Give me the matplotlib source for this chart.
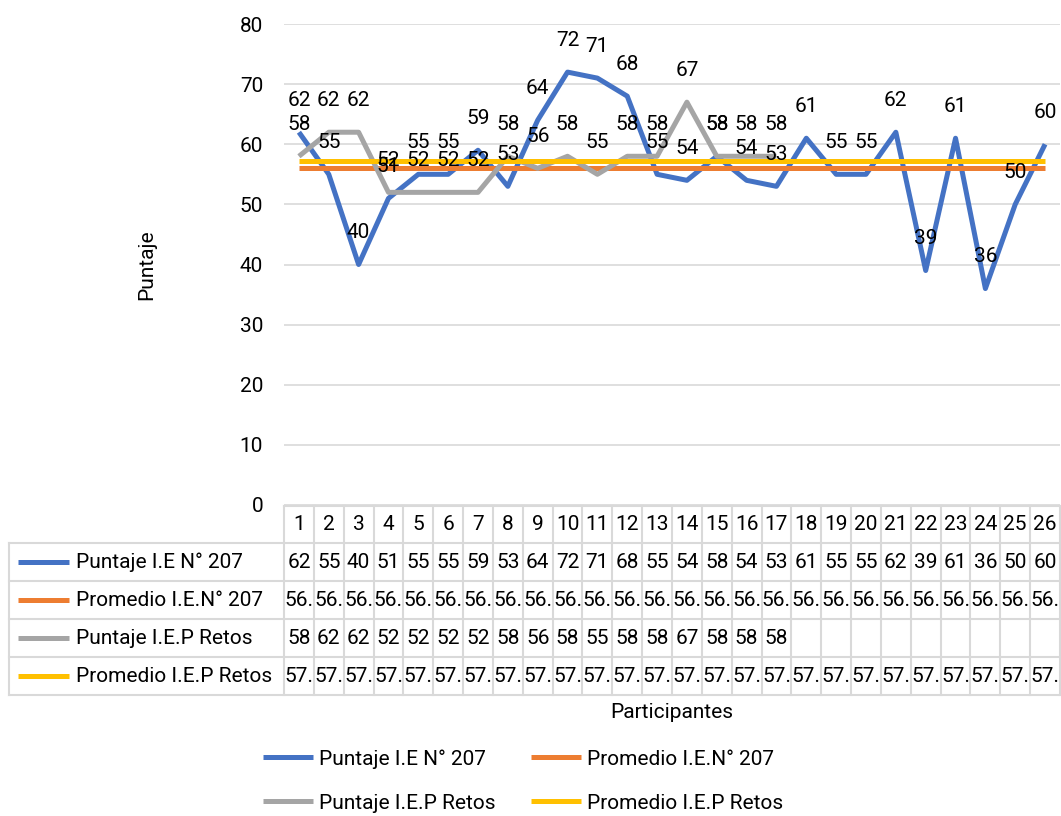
import matplotlib
matplotlib.use("Agg")
import matplotlib.pyplot as plt
from matplotlib.lines import Line2D
from matplotlib.transforms import blended_transform_factory, Bbox, TransformedBbox

plt.rcParams['font.family'] = ['Roboto', 'DejaVu Sans']

# ---------------- data ----------------
participantes = [str(i) for i in range(1, 27)]
puntaje_207 = [62, 55, 40, 51, 55, 55, 59, 53, 64, 72, 71, 68, 55, 54, 58, 54, 53,
               61, 55, 55, 62, 39, 61, 36, 50, 60]
puntaje_retos = [58, 62, 62, 52, 52, 52, 52, 58, 56, 58, 55, 58, 58, 67, 58, 58, 58]
promedio_207 = 56.08
promedio_retos = 57.29

series_names = ["Puntaje I.E N° 207", "Promedio I.E.N° 207",
                "Puntaje I.E.P Retos", "Promedio I.E.P Retos"]
colors = ["#4472C4", "#ED7D31", "#A5A5A5", "#FFC000"]
y_ticks = [0, 10, 20, 30, 40, 50, 60, 70, 80]

W, H = 1061, 816
FS = 15
fig = plt.figure(figsize=(W / 100, H / 100), dpi=100)

def fx(px):
    return px / W

def fy(py):
    return 1 - py / H

ax = fig.add_axes([fx(284), fy(505), fx(1060) - fx(284), fy(24) - fy(505)])
n = len(participantes)
xs = list(range(n))
ax.set_xlim(-0.5, n - 0.5)
ax.set_ylim(0, 80)
ax.set_yticks(y_ticks)
ax.set_xticks([])
for s in ax.spines.values():
    s.set_visible(False)
ax.tick_params(axis='y', length=0, pad=15, labelsize=FS)
ax.grid(axis='y', color='#D9D9D9', linewidth=1.2)
ax.set_axisbelow(True)

LW = 3.6
series_vals = [puntaje_207, [promedio_207] * n, puntaje_retos, [promedio_retos] * n]
for i, (vals, c) in enumerate(zip(series_vals, colors)):
    ax.plot(xs[:len(vals)], vals, color=c, lw=LW, solid_capstyle='butt', zorder=2 + i)

for vals in (puntaje_207, puntaje_retos):
    for x, v in zip(xs, vals):
        ax.annotate(str(v), (x, v), xytext=(0, 23), textcoords='offset points',
                    ha='center', va='center', fontsize=FS, zorder=10)

fig.text(fx(147), fy(265), "Puntaje", rotation=90, ha='center', va='center', fontsize=FS)
fig.text(fx(672), fy(712), "Participantes", ha='center', va='center', fontsize=FS)

# ---------------- data table ----------------
tr = blended_transform_factory(ax.transData, fig.transFigure)
rows_px = [506, 543, 581, 619, 657, 695]
gc = '#D9D9D9'
glw = 1.5
left_px = 9
x0, x1 = -0.5, n - 0.5
ax.add_line(Line2D([x0, x1], [fy(rows_px[0])] * 2, transform=tr, color=gc, lw=glw, clip_on=False))
for r in rows_px[1:]:
    fig.add_artist(Line2D([fx(left_px), fx(1060)], [fy(r)] * 2, color=gc, lw=glw))
for k in range(n + 1):
    ax.add_line(Line2D([x0 + k, x0 + k], [fy(rows_px[0]), fy(rows_px[-1])], transform=tr,
                       color=gc, lw=glw, clip_on=False))
fig.add_artist(Line2D([fx(left_px)] * 2, [fy(rows_px[1]), fy(rows_px[-1])], color=gc, lw=glw))

def cell_text(x, rtop, rbot, s):
    t = ax.text(x, (fy(rtop) + fy(rbot)) / 2, s, transform=tr, ha='center', va='center',
                fontsize=FS, clip_on=True)
    bb = TransformedBbox(Bbox([[x - 0.5, fy(rbot)], [x + 0.5, fy(rtop)]]), tr)
    t.set_clip_box(bb)

for x, p in zip(xs, participantes):
    cell_text(x, rows_px[0], rows_px[1], p)
table_rows = [
    [str(v) for v in puntaje_207],
    [f"{promedio_207:.2f}"[:3]] * n,
    [str(v) for v in puntaje_retos],
    [f"{promedio_retos:.2f}"[:3]] * n,
]
for ri, vals in enumerate(table_rows):
    rt, rb = rows_px[ri + 1], rows_px[ri + 2]
    for x, s in zip(xs, vals):
        cell_text(x, rt, rb, s)
    yc = (fy(rt) + fy(rb)) / 2
    fig.add_artist(Line2D([fx(18), fx(69)], [yc, yc], color=colors[ri], lw=LW, solid_capstyle='butt'))
    fig.text(fx(76), yc, series_names[ri], ha='left', va='center', fontsize=FS)

# ---------------- legend ----------------
handles = [Line2D([], [], color=c, lw=LW, solid_capstyle='butt') for c in colors]
order = [0, 2, 1, 3]
fig.legend([handles[i] for i in order], [series_names[i] for i in order],
           loc='center', bbox_to_anchor=(fx(523), fy(781)), ncol=2, frameon=False,
           fontsize=FS, handlelength=2.4, handletextpad=0.3, columnspacing=1.7,
           labelspacing=1.2)

fig.savefig("out.png", dpi=100)
